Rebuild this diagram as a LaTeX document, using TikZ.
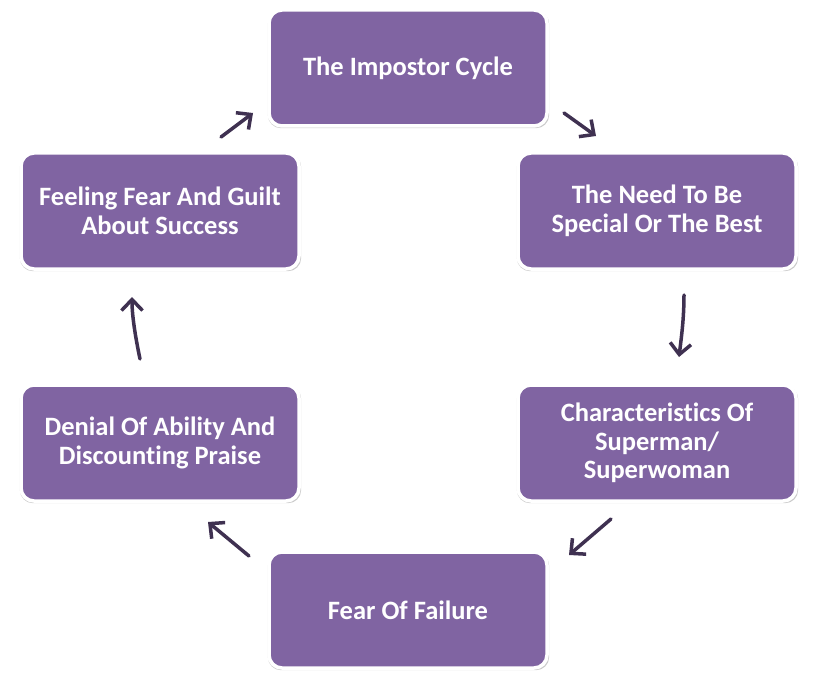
\documentclass[tikz,border=0pt]{standalone}
\usepackage{fontspec}
\setmainfont{Carlito}[Ligatures={NoCommon}]
\usetikzlibrary{arrows.meta,shadows}
\definecolor{boxfill}{HTML}{8064A2}
\definecolor{arrowc}{HTML}{3F3151}
\tikzset{
  cyclebox/.style={draw=white, line width=3.5pt, fill=boxfill, rounded corners=13pt,
    minimum width=278pt, minimum height=116pt, align=center, text=white,
    font=\fontsize{26.5}{28.5}\selectfont\bfseries,
    general shadow={shadow scale=1.012, shadow xshift=0.5pt, shadow yshift=-1.5pt, fill=black!45, opacity=0.45}},
  cyclearrow/.style={draw=arrowc, line width=3.5pt, line cap=round,
    -{Straight Barb[length=11pt,width=21pt,line width=3.5pt]}}
}
\begin{document}
\begin{tikzpicture}[x=1pt,y=-1pt]
\useasboundingbox (0,0) rectangle (814,690);
\node[cyclebox] (top) at (408,68) {The Impostor Cycle};
\node[cyclebox] (ru) at (657,211) {The Need To Be\\Special Or The Best};
\node[cyclebox] (rl) at (657,443) {Characteristics Of\\Superman/\\Superwoman};
\node[cyclebox] (bot) at (408,610) {Fear Of Failure};
\node[cyclebox] (ll) at (160,443) {Denial Of Ability And\\Discounting Praise};
\node[cyclebox] (lu) at (160,211) {Feeling Fear And Guilt\\About Success};
\coordinate (a1s) at (564,113); \coordinate (a1e) at (596,136);
\coordinate (a2s) at (684,295); \coordinate (a2e) at (679,357);
\coordinate (a3s) at (611,519); \coordinate (a3e) at (569,555);
\coordinate (a4s) at (249,556); \coordinate (a4e) at (208,522);
\coordinate (a5s) at (140,359); \coordinate (a5e) at (132,297);
\coordinate (a6s) at (221,137); \coordinate (a6e) at (253,113);
\draw[cyclearrow] (a1s) -- (a1e);
\draw[cyclearrow] (a2s) .. controls (684,320) and (681,340) .. (a2e);
\draw[cyclearrow] (a3s) -- (a3e);
\draw[cyclearrow] (a4s) -- (a4e);
\draw[cyclearrow] (a5s) .. controls (135,335) and (132,315) .. (a5e);
\draw[cyclearrow] (a6s) -- (a6e);
\end{tikzpicture}
\end{document}
